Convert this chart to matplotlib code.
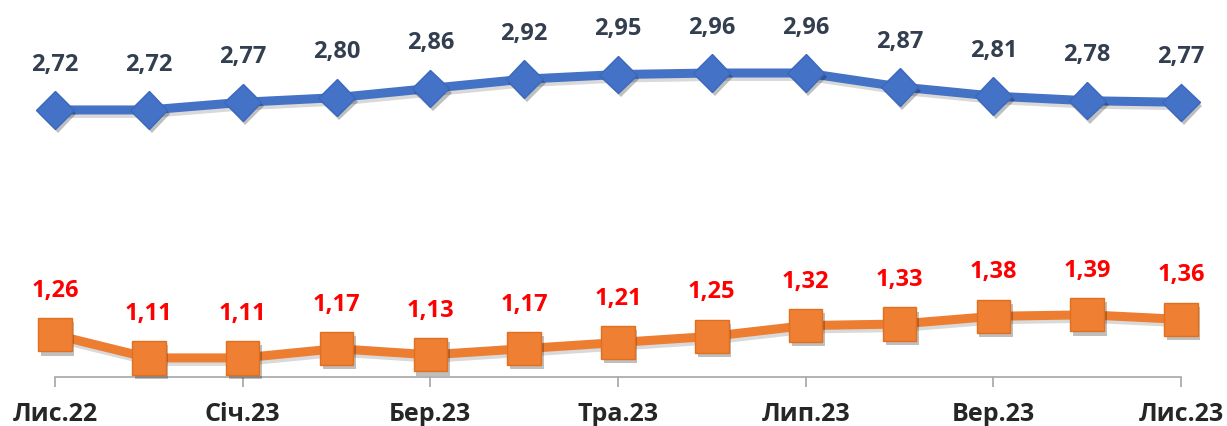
import matplotlib
matplotlib.use("Agg")
from matplotlib import pyplot as plt
import matplotlib.patheffects as pe

months = ['Лис.22', 'Гру.22', 'Січ.23', 'Лют.23', 'Бер.23', 'Кві.23', 'Тра.23',
          'Чер.23', 'Лип.23', 'Сер.23', 'Вер.23', 'Жов.23', 'Лис.23']
blue_vals = [2.72, 2.72, 2.77, 2.80, 2.86, 2.92, 2.95, 2.96, 2.96, 2.87, 2.81, 2.78, 2.77]
orange_vals = [1.26, 1.11, 1.11, 1.17, 1.13, 1.17, 1.21, 1.25, 1.32, 1.33, 1.38, 1.39, 1.36]

plt.rcParams['font.family'] = ['Open Sans', 'DejaVu Sans']

fig = plt.figure(figsize=(12.27, 4.26), dpi=100)
ax = fig.add_axes([55 / 1227, 49 / 426, 1126 / 1227, 377 / 426])

x = list(range(len(months)))
line_shadow = [pe.SimpleLineShadow(offset=(1.5, -2.5), shadow_color='black', alpha=0.15), pe.Normal()]
mark_shadow = [pe.SimplePatchShadow(offset=(2, -3), shadow_rgbFace='black', alpha=0.25), pe.Normal()]

# lines
ax.plot(x, blue_vals, color='#4472C4', lw=6.5, path_effects=line_shadow, zorder=3, clip_on=False)
ax.plot(x, orange_vals, color='#ED7D31', lw=6.5, path_effects=line_shadow, zorder=3, clip_on=False)
# markers
ax.plot(x, blue_vals, ls='none', marker='D', ms=19,
        markerfacecolor='#4372C6', markeredgecolor='#3A68BE', markeredgewidth=1,
        path_effects=mark_shadow, zorder=4, clip_on=False)
ax.plot(x, orange_vals, ls='none', marker='s', ms=24,
        markerfacecolor='#EE7F33', markeredgecolor='#E07020', markeredgewidth=1,
        path_effects=mark_shadow, zorder=4, clip_on=False)

for i, v in enumerate(blue_vals):
    ax.annotate(f'{v:.2f}'.replace('.', ','), (i, v), xytext=(0, 24),
                textcoords='offset points', ha='center', va='bottom',
                fontsize=17, fontweight='bold', color='#333F50')
for i, v in enumerate(orange_vals):
    ax.annotate(f'{v:.2f}'.replace('.', ','), (i, v), xytext=(0, 23),
                textcoords='offset points', ha='center', va='bottom',
                fontsize=17, fontweight='bold', color='#FF0000')

ax.set_xlim(0, 12)
ax.set_ylim(0.986, 3.434)
ax.set_xticks(x[::2])
ax.set_xticklabels(months[::2], fontsize=18, fontweight='bold', color='#262626')
ax.tick_params(axis='x', length=7, width=1.2, color='#A6A6A6', direction='out', pad=11)
ax.set_yticks([])
for s in ['top', 'right', 'left']:
    ax.spines[s].set_visible(False)
ax.spines['bottom'].set_color('#A6A6A6')
ax.spines['bottom'].set_linewidth(1.2)
ax.patch.set_alpha(0)

fig.savefig('out.png', dpi=100)
